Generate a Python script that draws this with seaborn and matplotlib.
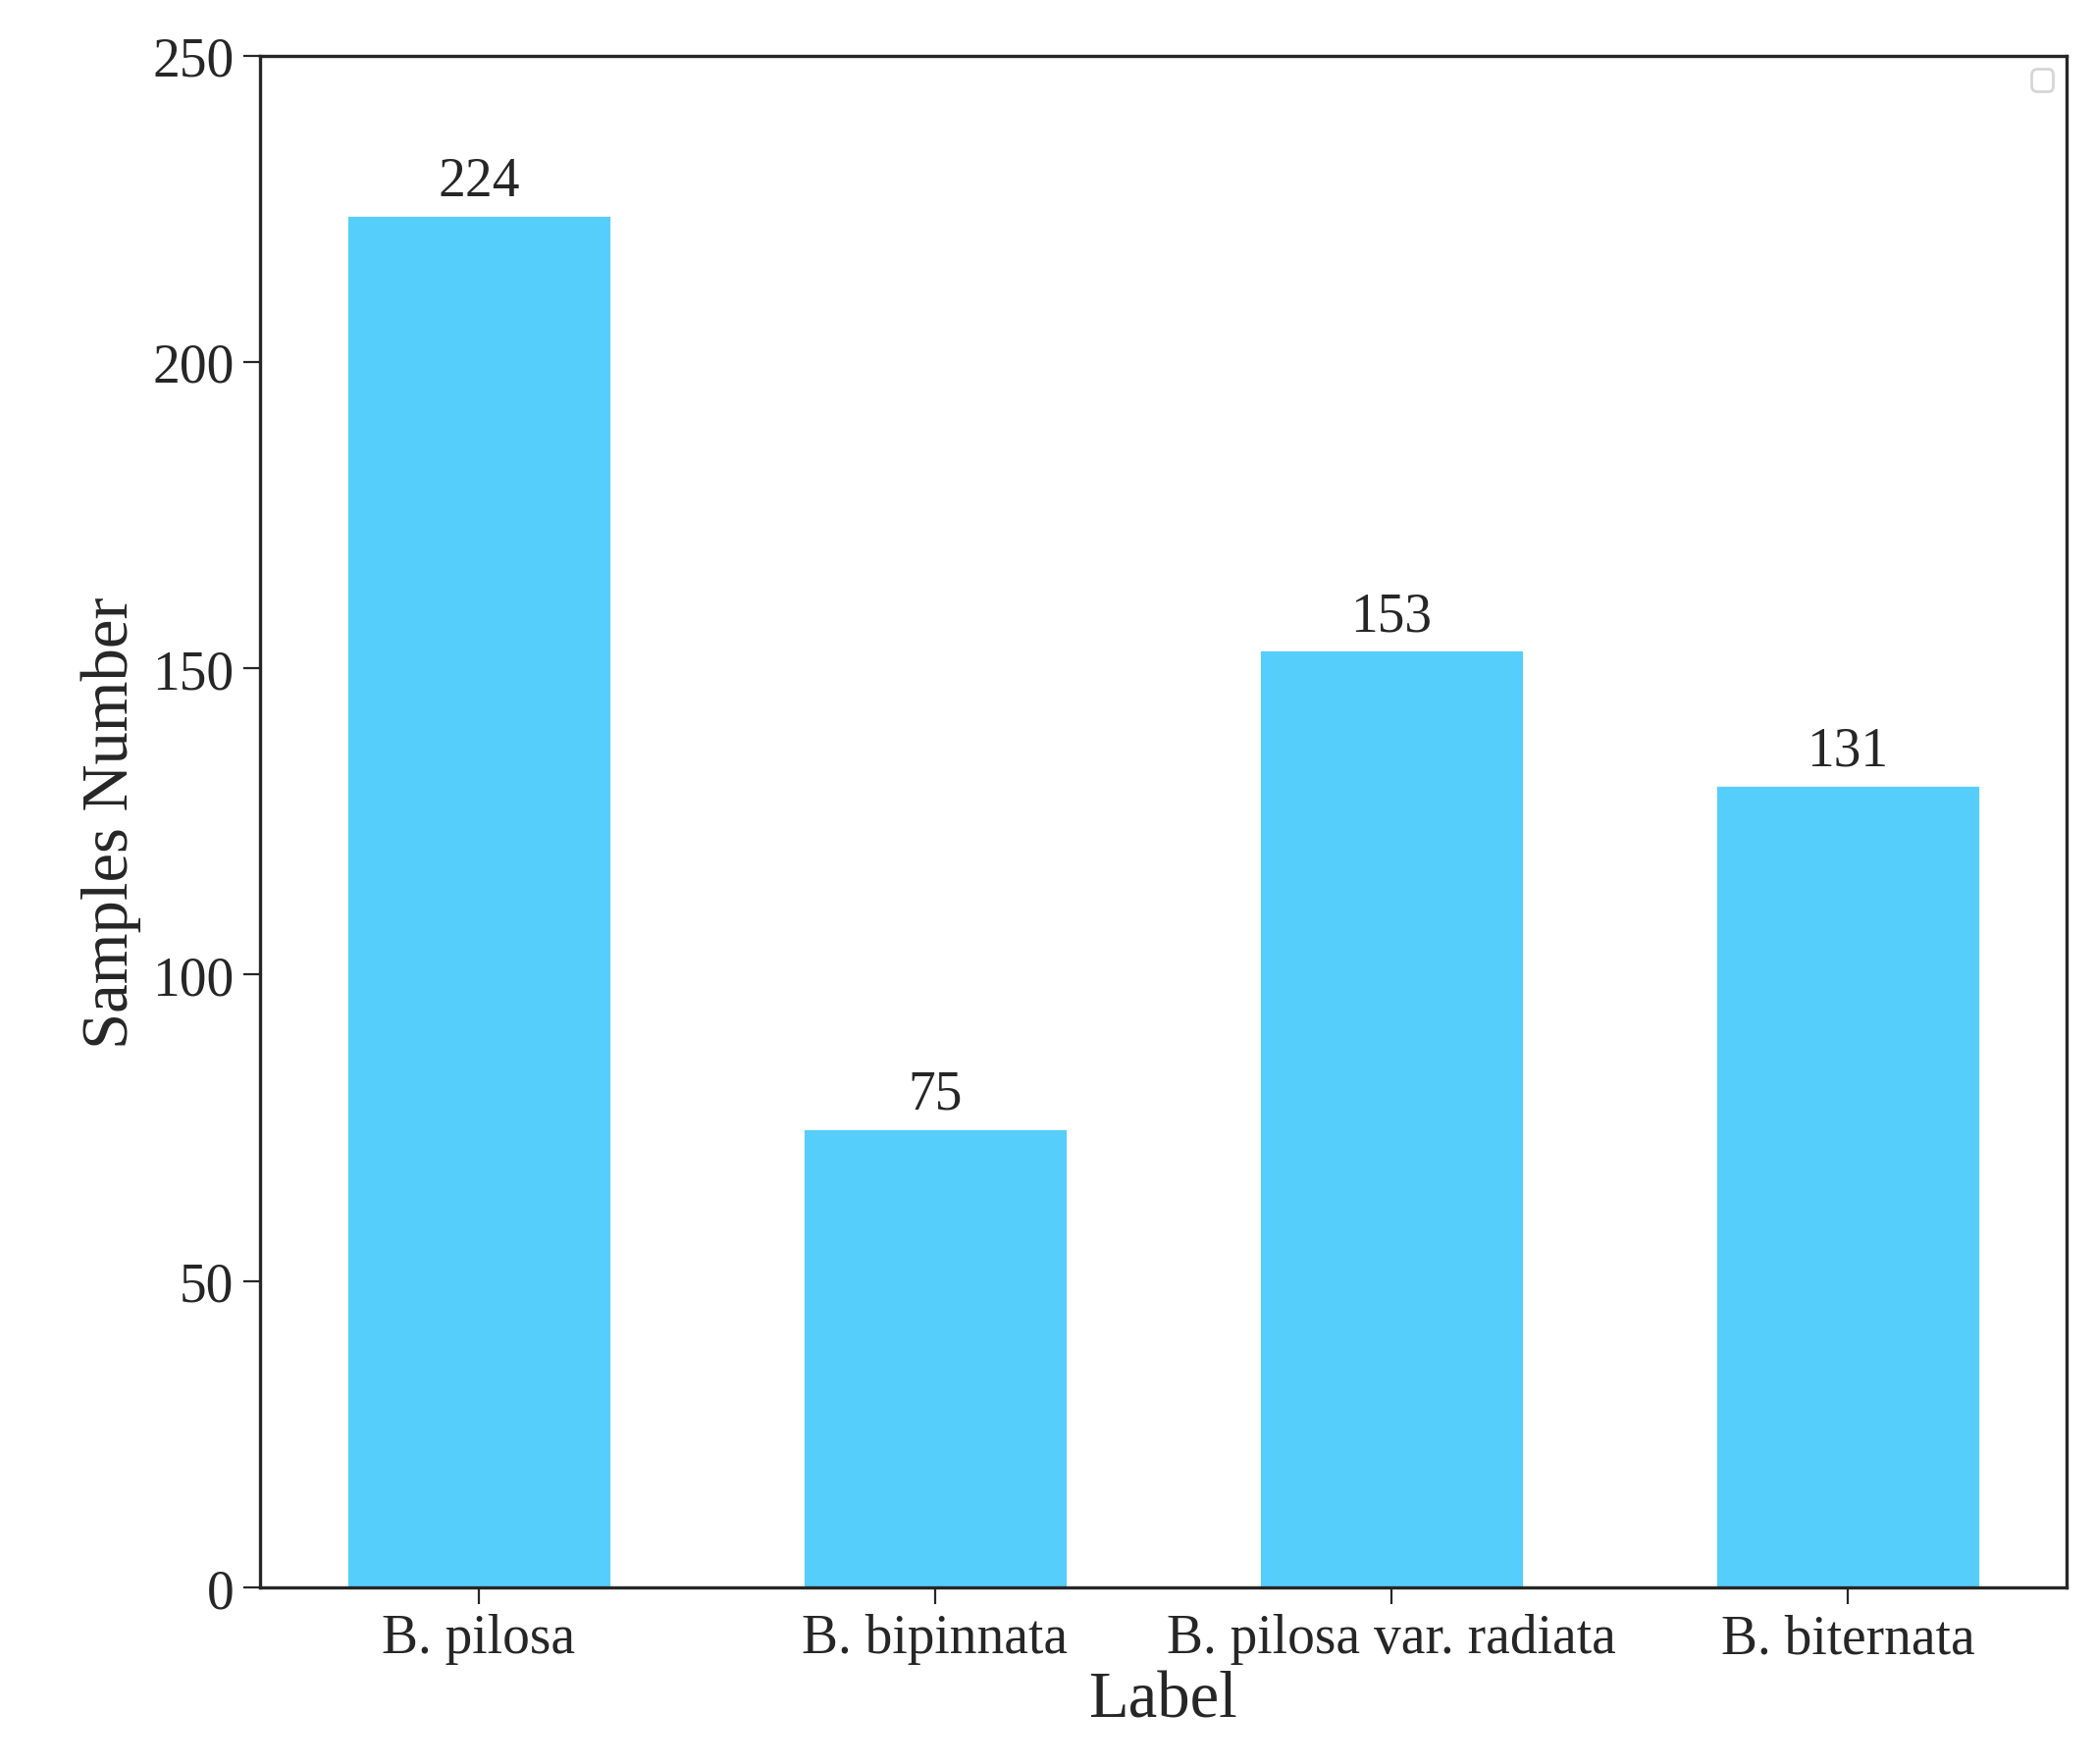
import matplotlib
matplotlib.use("Agg")
import matplotlib.pyplot as plt
import seaborn as sns
import pandas as pd

labels = ["B. pilosa", "B. bipinnata", "B. pilosa var. radiata", "B. biternata"]
counts = [224, 75, 153, 131]

sns.set_style("ticks")
plt.rcParams['font.family'] = ['Liberation Serif', 'DejaVu Serif']

d = pd.DataFrame({"Label": labels, "Samples Number": counts})

fig = plt.figure(figsize=(10.68, 8.995), dpi=200)
ax = fig.add_axes([0.124, 0.10, 0.862, 0.868])
sns.barplot(data=d, x="Label", y="Samples Number", color="#56CEFB",
            saturation=1, width=0.58, ax=ax)
for c in ax.containers:
    ax.bar_label(c, fontsize=20, padding=3)

ax.set_ylim(0, 250)
ax.set_xlim(-0.48, 3.48)
ax.tick_params(labelsize=20, length=6)
ax.set_xlabel("Label", fontsize=24, labelpad=2)
ax.set_ylabel("Samples Number", fontsize=24)
for s in ax.spines.values():
    s.set_visible(True)
    s.set_linewidth(1.2)
ax.legend(handles=[], loc="upper right")

fig.savefig("out.png", dpi=200)
